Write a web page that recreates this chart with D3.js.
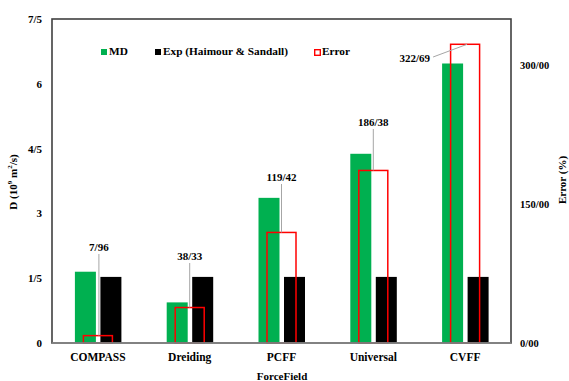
<!DOCTYPE html>
<html>
<head>
<meta charset="utf-8">
<script src="https://cdn.jsdelivr.net/npm/d3@7"></script>
<style>
  html, body { margin: 0; padding: 0; background: #fff; }
  svg { display: block; }
</style>
</head>
<body>
<svg id="chart" width="569" height="381"></svg>
<script>
// Diffusion coefficient by force field: MD vs experiment, plus relative error
const categories = ["COMPASS", "Dreiding", "PCFF", "Universal", "CVFF"];
const mdValues = [1.65, 0.94, 3.36, 4.38, 6.47];
const expValues = [1.53, 1.53, 1.53, 1.53, 1.53];
const errorValues = [7.96, 38.33, 119.42, 186.38, 322.69];
const errorLabels = ["7/96", "38/33", "119/42", "186/38", "322/69"];
const leftTicks = [0, 1.5, 3, 4.5, 6, 7.5];
const leftTickLabels = ["0", "1/5", "3", "4/5", "6", "7/5"];
const rightTicks = [0, 150, 300];
const rightTickLabels = ["0/00", "150/00", "300/00"];

const FONT = "'Liberation Serif', 'Times New Roman', serif";

const svg = d3.select("#chart");
const plot = { left: 52, right: 511, top: 19, bottom: 343 };

const x = d3.scaleBand().domain(categories).range([plot.left, plot.right]).padding(0);
const yL = d3.scaleLinear().domain([0, 7.5]).range([plot.bottom, plot.top]);
const yR = d3.scaleLinear().domain([0, 350]).range([plot.bottom, plot.top]);

const green = "#00b050";
const cx = c => x(c) + x.bandwidth() / 2;

// MD bars
svg.append("g").selectAll("rect").data(categories).join("rect")
  .attr("x", c => cx(c) - 23).attr("width", 21)
  .attr("y", (c, i) => yL(mdValues[i]))
  .attr("height", (c, i) => yL(0) - yL(mdValues[i]))
  .attr("fill", green);

// Experimental bars
svg.append("g").selectAll("rect").data(categories).join("rect")
  .attr("x", c => cx(c) + 2.5).attr("width", 21)
  .attr("y", (c, i) => yL(expValues[i]))
  .attr("height", (c, i) => yL(0) - yL(expValues[i]))
  .attr("fill", "#000");

// Error bars (secondary axis), outlined
svg.append("g").selectAll("rect").data(categories).join("rect")
  .attr("x", c => cx(c) - 14.5).attr("width", 29)
  .attr("y", (c, i) => yR(errorValues[i]))
  .attr("height", (c, i) => yR(0) - yR(errorValues[i]))
  .attr("fill", "none").attr("stroke", "#ff0000").attr("stroke-width", 1.5);

// Error value labels with leader lines
const labelPos = [
  { dx: 1, y: 248 }, { dx: 0, y: 257 }, { dx: 0, y: 178 }, { dx: 0, y: 123 }, { dx: -53, y: 59 }
];
categories.forEach((c, i) => {
  const top = yR(errorValues[i]);
  const p = labelPos[i];
  if (i < 4) {
    svg.append("line")
      .attr("x1", cx(c) + p.dx).attr("x2", cx(c) + p.dx)
      .attr("y1", p.y + 6).attr("y2", top)
      .attr("stroke", "#a6a6a6").attr("stroke-width", 1);
    svg.append("text").attr("x", cx(c) + p.dx).attr("y", p.y)
      .attr("text-anchor", "middle").attr("dominant-baseline", "middle")
      .attr("font-size", 11).attr("fill", "#000").text(errorLabels[i]);
  } else {
    svg.append("line")
      .attr("x1", cx(c) - 32).attr("y1", p.y - 2)
      .attr("x2", cx(c) + 2).attr("y2", top)
      .attr("stroke", "#a6a6a6").attr("stroke-width", 1);
    svg.append("text").attr("x", cx(c) - 35).attr("y", p.y)
      .attr("text-anchor", "end").attr("dominant-baseline", "middle")
      .attr("font-size", 11).attr("fill", "#000").text(errorLabels[i]);
  }
});

// Plot frame
svg.append("rect")
  .attr("x", plot.left).attr("y", plot.top)
  .attr("width", plot.right - plot.left).attr("height", plot.bottom - plot.top)
  .attr("fill", "none").attr("stroke", "#404040").attr("stroke-width", 1.6);
svg.append("line")
  .attr("x1", plot.left).attr("x2", plot.right)
  .attr("y1", plot.bottom).attr("y2", plot.bottom)
  .attr("stroke", "#8c8c8c").attr("stroke-width", 1.6);

// Left axis tick labels
const leftAxis = d3.axisLeft(yL).tickValues(leftTicks)
  .tickFormat((d, i) => leftTickLabels[i]).tickSize(0).tickPadding(10);
svg.append("g").attr("transform", `translate(${plot.left},0)`).call(leftAxis)
  .call(g => g.select(".domain").remove())
  .call(g => g.selectAll("text").attr("font-size", 11).attr("fill", "#000"));

// Right axis tick labels
const rightAxis = d3.axisRight(yR).tickValues(rightTicks)
  .tickFormat((d, i) => rightTickLabels[i]).tickSize(0).tickPadding(9);
svg.append("g").attr("transform", `translate(${plot.right},0)`).call(rightAxis)
  .call(g => g.select(".domain").remove())
  .call(g => g.selectAll("text").attr("font-size", 10.5).attr("fill", "#000"));

// Category axis labels
const bottomAxis = d3.axisBottom(x).tickSize(0).tickPadding(10);
svg.append("g").attr("transform", `translate(0,${plot.bottom})`).call(bottomAxis)
  .call(g => g.select(".domain").remove())
  .call(g => g.selectAll("text").attr("font-size", 11.5).attr("fill", "#000"));

// Axis titles
svg.append("text").attr("x", 282).attr("y", 377)
  .attr("text-anchor", "middle").attr("dominant-baseline", "middle")
  .attr("font-size", 11).text("ForceField");

const yTitle = svg.append("text")
  .attr("transform", "translate(14,182) rotate(-90)")
  .attr("text-anchor", "middle").attr("dominant-baseline", "middle")
  .attr("font-size", 11);
yTitle.append("tspan").text("D (10");
yTitle.append("tspan").attr("font-size", 7).attr("dy", -4).text("9");
yTitle.append("tspan").attr("dy", 4).text(" m");
yTitle.append("tspan").attr("font-size", 7).attr("dy", -4).text("2");
yTitle.append("tspan").attr("dy", 4).text("/s)");

svg.append("text")
  .attr("transform", "translate(563,180) rotate(-90)")
  .attr("text-anchor", "middle").attr("dominant-baseline", "middle")
  .attr("font-size", 11).text("Error (%)");

// Legend
const legendItems = [
  { label: "MD", x: 101, type: "fill", color: green },
  { label: "Exp (Haimour & Sandall)", x: 155, type: "fill", color: "#000" },
  { label: "Error", x: 314, type: "stroke", color: "#ff0000" }
];
const legend = svg.append("g");
legendItems.forEach(it => {
  const r = legend.append("rect").attr("x", it.x).attr("y", 49).attr("width", 6).attr("height", 6);
  if (it.type === "fill") r.attr("fill", it.color);
  else r.attr("x", it.x + 0.7).attr("y", 49.7).attr("width", 5.6).attr("height", 5.6)
        .attr("fill", "none").attr("stroke", it.color).attr("stroke-width", 1.4);
  legend.append("text").attr("x", it.x + 8).attr("y", 52.5)
    .attr("dominant-baseline", "middle").attr("font-size", 11.3).text(it.label);
});

// All chart text uses a bold Times-style face
svg.selectAll("text").style("font-family", FONT).style("font-weight", "bold");
</script>
</body>
</html>
